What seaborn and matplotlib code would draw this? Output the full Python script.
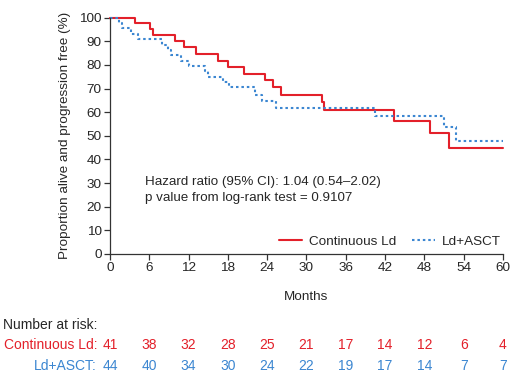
import matplotlib
matplotlib.use("Agg")
import matplotlib.pyplot as plt
import matplotlib.transforms as mtransforms
from matplotlib.lines import Line2D
import seaborn as sns
import pandas as pd

# Data
red_months = [0, 3.8, 6.1, 6.6, 9.9, 11.3, 13.2, 16.5, 18.0, 20.5, 23.7, 24.9, 26.1, 32.3, 32.7, 43.4, 48.9, 51.8, 60]
red_surv = [100, 97.6, 95.1, 92.7, 90.0, 87.5, 84.6, 81.8, 79.0, 76.3, 73.6, 70.5, 67.3, 64.5, 60.9, 56.3, 51.1, 44.7, 44.7]
blue_months = [0, 1.4, 1.8, 3.2, 4.3, 8.0, 8.9, 9.3, 10.9, 12.0, 14.5, 15.0, 17.3, 18.1, 22.1, 23.2, 25.3, 40.5, 51.0, 52.8, 60]
blue_surv = [100, 97.7, 95.5, 93.2, 90.9, 88.6, 86.4, 84.1, 81.8, 79.5, 77.3, 75.0, 72.7, 70.5, 67.3, 64.7, 61.9, 58.4, 53.9, 47.8, 47.8]

risk_months = [0, 6, 12, 18, 24, 30, 36, 42, 48, 54, 60]
risk_red = [41, 38, 32, 28, 25, 21, 17, 14, 12, 6, 4]
risk_blue = [44, 40, 34, 30, 24, 22, 19, 17, 14, 7, 7]

series_names = ["Continuous Ld", "Ld+ASCT"]
RED = "#e3202a"
BLUE = "#3b86d1"

sns.set_style("ticks")
plt.rcParams["font.family"] = ["Liberation Sans", "DejaVu Sans"]

fig = plt.figure(figsize=(5.2, 3.76), dpi=100)
ax = fig.add_axes([0.2115, 0.3245, 0.7558, 0.6285])

df_red = pd.DataFrame({"m": red_months, "s": red_surv})
df_blue = pd.DataFrame({"m": blue_months, "s": blue_surv})
sns.lineplot(data=df_red, x="m", y="s", ax=ax, color=RED, lw=1.5,
             drawstyle="steps-post", estimator=None, sort=False)
sns.lineplot(data=df_blue, x="m", y="s", ax=ax, color=BLUE, lw=1.5,
             drawstyle="steps-post", estimator=None, sort=False, linestyle=(0, (1.2, 1.4)))
for ln in ax.lines:
    ln.set_clip_on(False)

ax.set_xlim(0, 60)
ax.set_ylim(0, 100)
ax.set_xticks(risk_months)
ax.set_yticks(range(0, 101, 10))
ax.tick_params(labelsize=9.7, length=4, width=0.9, color="#333333", pad=2)
for sp in ["top", "right"]:
    ax.spines[sp].set_visible(False)
for sp in ["left", "bottom"]:
    ax.spines[sp].set_linewidth(0.9)
    ax.spines[sp].set_color("#333333")

ax.set_xlabel("Months", fontsize=9.7, labelpad=12)
ax.set_ylabel("Proportion alive and progression free (%)", fontsize=9.7, labelpad=6)

ax.text(5.4, 30.5, "Hazard ratio (95% CI): 1.04 (0.54\u20132.02)", fontsize=9.6, va="center")
ax.text(5.4, 23.7, "p value from log-rank test = 0.9107", fontsize=9.6, va="center")

handles = [Line2D([], [], color=RED, lw=1.5),
           Line2D([], [], color=BLUE, lw=1.5, linestyle=(0, (1.2, 1.4)))]
ax.legend(handles, series_names, loc="center right", bbox_to_anchor=(1.008, 0.052),
          ncol=2, frameon=False, fontsize=9.7, handlelength=1.7, handletextpad=0.5,
          columnspacing=1.2, borderaxespad=0)

tr = mtransforms.blended_transform_factory(ax.transData, fig.transFigure)
fs = 10
fig.text(3 / 520, 1 - 325 / 376, "Number at risk:", fontsize=fs, va="center")
fig.text(97 / 520, 1 - 345 / 376, series_names[0] + ":", fontsize=fs, va="center", ha="right", color=RED)
fig.text(97 / 520, 1 - 366 / 376, series_names[1] + ":", fontsize=fs, va="center", ha="right", color=BLUE)
for m, r, b in zip(risk_months, risk_red, risk_blue):
    ax.text(m, 1 - 345 / 376, str(r), transform=tr, fontsize=fs, va="center", ha="center", color=RED)
    ax.text(m, 1 - 366 / 376, str(b), transform=tr, fontsize=fs, va="center", ha="center", color=BLUE)

fig.savefig("out.png", dpi=100)
